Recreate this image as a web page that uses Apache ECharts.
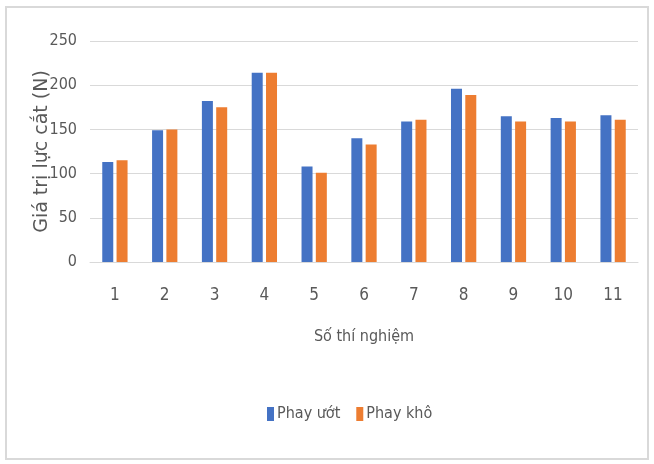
<!DOCTYPE html>
<html><head><meta charset="utf-8">
<script src="https://cdn.jsdelivr.net/npm/echarts@6/dist/echarts.min.js"></script>
<style>html,body{margin:0;padding:0;background:#fff}#c{width:654px;height:464px}
#frame{position:absolute;left:5px;top:6px;width:644px;height:454px;border:2px solid #d9d9d9;box-sizing:border-box;pointer-events:none}</style>
</head><body><div id="c"></div><div id="frame"></div>
<script>
const categories = ['1','2','3','4','5','6','7','8','9','10','11'];
const phayUot = [113, 149, 182, 214, 108, 140, 159, 196, 165, 163, 166];
const phayKho = [115, 150, 175, 214, 101, 133, 161, 189, 159, 159, 161];
const seriesNames = ['Phay ướt', 'Phay khô'];
const FONT = '"DejaVu Sans Condensed", "Liberation Sans Narrow", sans-serif';
const chart = echarts.init(document.getElementById('c'));
chart.setOption({
  animation: false,
  backgroundColor: '#fff',
  grid: {left: 90, right: 16, top: 41, bottom: 202},
  legend: {
    data: seriesNames, top: 401, left: 262, itemWidth: 7, itemHeight: 14, itemGap: 16,
    icon: 'rect',
    textStyle: {fontFamily: FONT, fontSize: 16, color: '#595959', padding: [0,0,0,-2]}
  },
  xAxis: {
    type: 'category', data: categories,
    name: 'Số thí nghiệm', nameLocation: 'middle', nameGap: 67,
    nameTextStyle: {fontFamily: FONT, fontSize: 16, color: '#595959'},
    axisLine: {lineStyle: {color: '#d9d9d9', width: 1}},
    axisTick: {show: false},
    axisLabel: {fontFamily: FONT, fontSize: 17, color: '#595959', margin: 25}
  },
  yAxis: {
    type: 'value', min: 0, max: 250, interval: 50,
    name: 'Giá trị lực cắt (N)', nameLocation: 'middle', nameGap: 38, nameRotate: 90,
    nameMoveOverlap: false,
    nameTextStyle: {fontFamily: '"DejaVu Sans", sans-serif', fontSize: 19, color: '#595959'},
    axisLine: {show: false}, axisTick: {show: false},
    splitLine: {lineStyle: {color: '#d9d9d9', width: 1}},
    axisLabel: {fontFamily: FONT, fontSize: 16, color: '#595959', margin: 13}
  },
  series: [
    {name: seriesNames[0], type: 'bar', data: phayUot, barWidth: 11, barGap: '30%', itemStyle: {color: '#4472C4'}},
    {name: seriesNames[1], type: 'bar', data: phayKho, barWidth: 11, itemStyle: {color: '#ED7D31'}}
  ]
});
</script></body></html>
